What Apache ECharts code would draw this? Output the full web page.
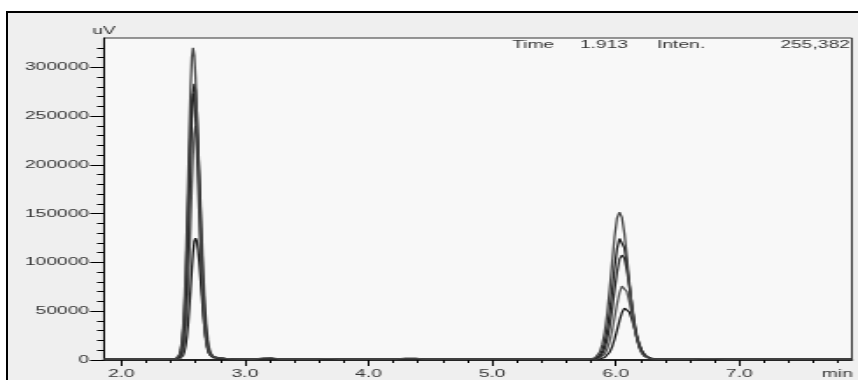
<!DOCTYPE html>
<html>
<head>
<meta charset="utf-8">
<script src="https://cdn.jsdelivr.net/npm/echarts@6/dist/echarts.min.js"></script>
<style>
  html, body { margin: 0; padding: 0; background: #fff; width: 858px; height: 380px; overflow: hidden; }
  #panel { position: absolute; left: 6px; top: 11px; right: 0; bottom: 0;
           border-left: 2px solid #000; border-top: 2px solid #000; background: #efefef; }
  /* the instrument printout uses a horizontally widened font, so the chart is laid out
     on a narrower canvas and widened to the full page */
  #chart { position: absolute; left: 0; top: 0; width: 490px; height: 380px;
           transform: scaleX(1.751); transform-origin: 0 0; }
</style>
</head>
<body>
<div id="panel"></div>
<div id="chart"></div>
<script>
// Retention time (min) shared by all injections
const minutes = [
  1.86, 2.20, 2.40,
  2.44, 2.45, 2.46, 2.47, 2.48, 2.49, 2.50, 2.51, 2.52, 2.53,
  2.54, 2.55, 2.56, 2.57, 2.58, 2.59, 2.60, 2.61, 2.62, 2.63,
  2.64, 2.65, 2.66, 2.67, 2.68, 2.69, 2.70, 2.71, 2.72, 2.73,
  2.74, 2.75, 2.76, 2.78, 2.80, 2.84, 2.90,
  3.00, 3.08, 3.15, 3.22, 3.28, 3.40, 3.58, 3.64, 3.70, 3.76,
  4.00, 4.22, 4.30, 4.38, 4.44, 5.00, 5.60,
  5.71, 5.73, 5.75, 5.77, 5.79, 5.81, 5.83, 5.85, 5.87, 5.89,
  5.91, 5.93, 5.95, 5.97, 5.99, 6.01, 6.03, 6.05, 6.07, 6.09,
  6.11, 6.13, 6.15, 6.17, 6.19, 6.21, 6.23, 6.25, 6.27, 6.29,
  6.31, 6.33, 6.35, 6.40, 6.50,
  6.62, 6.70, 6.80, 6.88, 7.20, 7.91
];

// Detector signal (uV) of the five overlaid injections
const trace1 = [
  800, 800, 800,
  1150, 1730, 2980, 5630, 10800, 20200, 35700, 59400, 92800, 135500,
  184800, 235000, 279500, 309900, 320000, 312300, 289900, 256300, 215700, 172500,
  131500, 95400, 65900, 43200, 27100, 16900, 11200, 7300, 5250, 4130,
  3600, 3140, 2720, 2400, 2080, 1600, 1180,
  950, 850, 2100, 2300, 900, 800, 800, 1500, 1400, 800,
  800, 850, 2000, 1900, 850, 800, 800,
  800, 800, 800, 850, 970, 1300, 2130, 4070, 8120, 15700,
  28400, 47200, 71900, 99700, 126100, 145300, 151500, 146200, 129400, 105800,
  79600, 55300, 35600, 21600, 12300, 7000, 3980, 2470, 1750, 1410,
  1180, 1100, 1040, 920, 820,
  800, 1500, 1500, 800, 800, 800
];
const trace2 = [
  800, 800, 800,
  910, 1110, 1620, 2720, 5070, 9660, 17900, 31600, 52600, 82200,
  119900, 163500, 208000, 247300, 274200, 283000, 276200, 256400, 226700, 190700,
  152500, 116300, 84300, 58300, 39000, 24800, 15100, 10000, 6600, 4700,
  3700, 3300, 2900, 2350, 2070, 1600, 1180,
  950, 820, 1200, 1300, 850, 800, 800, 800, 800, 800,
  800, 800, 1400, 1300, 800, 800, 800,
  800, 800, 800, 820, 880, 1040, 1480, 2560, 4920, 9600,
  17800, 30900, 49100, 71400, 94500, 114100, 124500, 124700, 114900, 97700,
  76500, 55100, 36700, 22600, 13800, 7860, 4450, 2690, 1870, 1430,
  1150, 1080, 1030, 930, 820,
  800, 800, 800, 800, 800, 800
];
const trace3 = [
  800, 800, 800,
  1100, 1590, 2660, 4920, 9340, 17300, 30600, 50800, 79300, 115700,
  157000, 199800, 237800, 263700, 273000, 266400, 247300, 218700, 184000, 147100,
  112200, 81400, 56200, 36900, 23900, 14600, 9700, 6400, 4600, 3640,
  3200, 2800, 2440, 2170, 1890, 1480, 1130,
  950, 820, 1000, 1050, 820, 800, 800, 1100, 1050, 800,
  800, 800, 1200, 1150, 800, 800, 800,
  800, 800, 800, 800, 830, 920, 1150, 1750, 3120, 5990,
  11400, 20400, 33700, 51200, 71000, 89700, 103400, 107500, 104000, 92100,
  75300, 56700, 39500, 25500, 15500, 8970, 5210, 3060, 1980, 1480,
  1230, 1070, 1015, 920, 810,
  800, 1300, 1250, 800, 800, 800
];
const trace4 = [
  800, 800, 800,
  800, 900, 1060, 1500, 2430, 4420, 8310, 15300, 27000, 44700,
  69800, 101800, 138000, 175700, 209000, 231800, 240000, 234200, 217400, 192200,
  161800, 129400, 98600, 71500, 49400, 33200, 21100, 12900, 8600, 5700,
  4140, 3300, 2900, 2240, 2000, 1580, 1200,
  950, 810, 900, 950, 810, 800, 800, 800, 800, 800,
  800, 800, 1100, 1050, 800, 800, 800,
  800, 800, 800, 800, 810, 845, 940, 1210, 1860, 3280,
  6090, 11000, 18900, 29800, 43200, 57200, 68900, 75700, 75800, 69900,
  59500, 46800, 33900, 22900, 14400, 8610, 5040, 3000, 1940, 1440,
  1180, 1010, 970, 890, 810,
  800, 800, 800, 800, 800, 800
];
const trace5 = [
  800, 800, 800,
  800, 850, 940, 1160, 1650, 2690, 4710, 8360, 14400, 23700,
  36700, 53400, 72700, 92300, 109700, 121600, 125000, 122000, 113300, 100100,
  84300, 67400, 51400, 37300, 26600, 17700, 11400, 7100, 4900, 3350,
  2540, 2100, 1900, 1550, 1420, 1200, 1000,
  900, 800, 850, 850, 800, 800, 800, 800, 800, 800,
  800, 800, 900, 900, 800, 800, 800,
  800, 800, 800, 800, 800, 805, 830, 900, 1090, 1550,
  2540, 4510, 7980, 13500, 21200, 30600, 40400, 48600, 53200, 53300,
  49100, 41800, 32900, 23900, 16300, 10300, 6280, 3780, 2340, 1600,
  1250, 1070, 950, 880, 810,
  800, 800, 800, 800, 800, 800
];

// Axis ticks
const timeTicks = [2, 3, 4, 5, 6, 7];
const timeMinorTicks = [2.2, 2.4, 2.6, 2.8, 3.2, 3.4, 3.6, 3.8, 4.2, 4.4, 4.6, 4.8,
                        5.2, 5.4, 5.6, 5.8, 6.2, 6.4, 6.6, 6.8, 7.2, 7.4, 7.6, 7.8];
const signalTicks = [0, 50000, 100000, 150000, 200000, 250000, 300000];
const signalMinorTicks = [10000, 20000, 30000, 40000, 60000, 70000, 80000, 90000,
                          110000, 120000, 130000, 140000, 160000, 170000, 180000, 190000,
                          210000, 220000, 230000, 240000, 260000, 270000, 280000, 290000,
                          310000, 320000];

// Cursor readout
const readout = { timeLabel: 'Time', time: '1.913', intenLabel: 'Inten.', inten: '255,382' };

const traces = [trace5, trace4, trace3, trace2, trace1];
const traceColors = ['#1a1a1a', '#5a5a5a', '#2e2e2e', '#222222', '#4a4a4a'];

const FONT = '"Liberation Sans", Arial, sans-serif';
const textBase = { fontFamily: FONT, fontSize: 11, color: '#333' };

const chart = echarts.init(document.getElementById('chart'), null, { renderer: 'canvas' });

const T_MIN = 1.86, T_MAX = 7.91, S_MAX = 330000;

chart.setOption({
  animation: false,
  grid: {
    left: 59.4, right: 3.4, top: 38, height: 322,
    show: true, backgroundColor: '#f8f8f8', borderColor: '#333', borderWidth: 1
  },
  xAxis: [
    {
      type: 'value', min: T_MIN, max: T_MAX, position: 'bottom',
      axisLine: { lineStyle: { color: '#000', width: 1.5 } },
      axisTick: { customValues: timeTicks, length: 6, lineStyle: { color: '#000', width: 1 } },
      axisLabel: Object.assign({ customValues: timeTicks, margin: 8,
        formatter: v => v.toFixed(1) }, textBase),
      splitLine: { show: false },
      name: 'min', nameLocation: 'end', nameGap: 0.5,
      nameTextStyle: Object.assign({ align: 'right', verticalAlign: 'top', padding: [8, 0, 0, 0] }, textBase)
    },
    {
      type: 'value', min: T_MIN, max: T_MAX, position: 'bottom',
      axisLine: { show: false },
      axisTick: { customValues: timeMinorTicks, length: 3, lineStyle: { color: '#000', width: 1 } },
      axisLabel: { show: false },
      splitLine: { show: false }
    }
  ],
  yAxis: [
    {
      type: 'value', min: 0, max: S_MAX, position: 'left',
      axisLine: { show: true, lineStyle: { color: '#000', width: 1 } },
      axisTick: { show: true, customValues: signalTicks, length: 8, lineStyle: { color: '#000', width: 1 } },
      axisLabel: Object.assign({ customValues: signalTicks, margin: 8.5,
        formatter: v => String(v) }, textBase),
      splitLine: { show: false },
      name: 'uV', nameLocation: 'end', nameGap: 2,
      nameTextStyle: textBase
    },
    {
      type: 'value', min: 0, max: S_MAX, position: 'left', offset: 0,
      axisLine: { show: false },
      axisTick: { show: true, customValues: signalMinorTicks, length: 4, lineStyle: { color: '#000', width: 1 } },
      axisLabel: { show: false },
      splitLine: { show: false }
    }
  ],
  graphic: [
    { type: 'text', x: 292.4, y: 45, style: { text: readout.timeLabel, fontFamily: FONT, fontSize: 11, fill: '#333', align: 'left', verticalAlign: 'middle' } },
    { type: 'text', x: 331.2, y: 45, style: { text: readout.time, fontFamily: FONT, fontSize: 11, fill: '#333', align: 'left', verticalAlign: 'middle' } },
    { type: 'text', x: 375.2, y: 45, style: { text: readout.intenLabel, fontFamily: FONT, fontSize: 11, fill: '#333', align: 'left', verticalAlign: 'middle' } },
    { type: 'text', x: 485.4, y: 45, style: { text: readout.inten, fontFamily: FONT, fontSize: 11, fill: '#333', align: 'right', verticalAlign: 'middle' } }
  ],
  series: traces.map((vals, k) => ({
    type: 'line',
    xAxisIndex: 0, yAxisIndex: 0,
    showSymbol: false,
    clip: true,
    lineStyle: { color: traceColors[k], width: 1.3 },
    data: minutes.map((t, i) => [t, vals[i]])
  }))
});
</script>
</body>
</html>
